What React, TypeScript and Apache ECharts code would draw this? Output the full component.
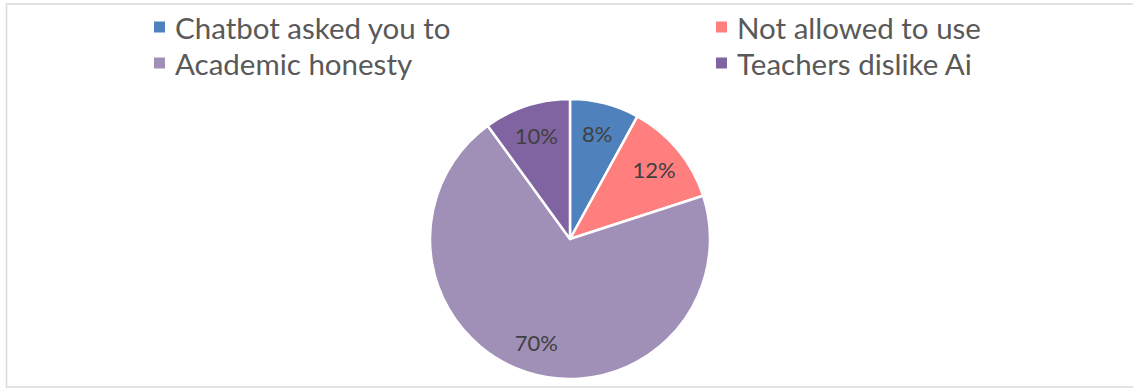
import React, { useEffect, useRef } from "react";
import * as echarts from "echarts";

const categories = ["Chatbot asked you to", "Not allowed to use", "Academic honesty", "Teachers dislike Ai"];
const values = [8, 12, 70, 10];
const colors = ["#4F81BD", "#FF7F7F", "#A090B8", "#8064A2"];
const legendLeftColumn = ["Chatbot asked you to", "Academic honesty"];
const legendRightColumn = ["Not allowed to use", "Teachers dislike Ai"];

const FONT = "Lato, 'Open Sans', sans-serif";

export default function App() {
  const ref = useRef<HTMLDivElement>(null);
  useEffect(() => {
    if (!ref.current) return;
    const chart = echarts.init(ref.current, undefined, { renderer: "svg" });
    const data = categories.map((name, i) => ({ name, value: values[i], itemStyle: { color: colors[i] } }));
    const legendBase = {
      orient: "vertical" as const,
      top: 12,
      padding: 0,
      itemWidth: 13,
      itemHeight: 13,
      itemGap: 6,
      icon: "rect",
      selectedMode: false,
      textStyle: { fontFamily: FONT, fontSize: 29.5, color: "#595959", lineHeight: 26, padding: [0, 0, 0, 4] },
    };
    const legendData = (names: string[]) =>
      names.map((n) => ({ name: n, itemStyle: { color: colors[categories.indexOf(n)] } }));
    chart.setOption({
      animation: false,
      backgroundColor: "#ffffff",
      graphic: [
        {
          type: "rect",
          shape: { x: 6.5, y: 4, width: 1150, height: 383 },
          style: { fill: "none", stroke: "#d9d9d9", lineWidth: 1.5 },
          silent: true,
        },
      ],
      legend: [
        { ...legendBase, left: 152, data: legendData(legendLeftColumn) },
        { ...legendBase, left: 714, data: legendData(legendRightColumn) },
      ],
      series: [
        {
          type: "pie",
          center: [570, 239],
          radius: [0, 140],
          startAngle: 90,
          clockwise: true,
          data,
          label: { show: false },
          labelLine: { show: false },
          itemStyle: { borderColor: "#ffffff", borderWidth: 2.5 },
          emphasis: { disabled: true },
        },
        {
          type: "pie",
          center: [570, 239],
          radius: [72, 140],
          startAngle: 90,
          clockwise: true,
          silent: true,
          legendHoverLink: false,
          data: categories.map((name, i) => ({ name, value: values[i] })),
          itemStyle: { color: "rgba(0,0,0,0)" },
          label: {
            show: true,
            position: "inside",
            formatter: "{c}%",
            fontFamily: FONT,
            fontSize: 22,
            color: "#404040",
          },
          labelLine: { show: false },
          emphasis: { disabled: true },
        },
      ],
    });
    return () => chart.dispose();
  }, []);
  return <div ref={ref} style={{ position: "absolute", left: 0, top: 0, width: 1133, height: 389 }} />;
}
